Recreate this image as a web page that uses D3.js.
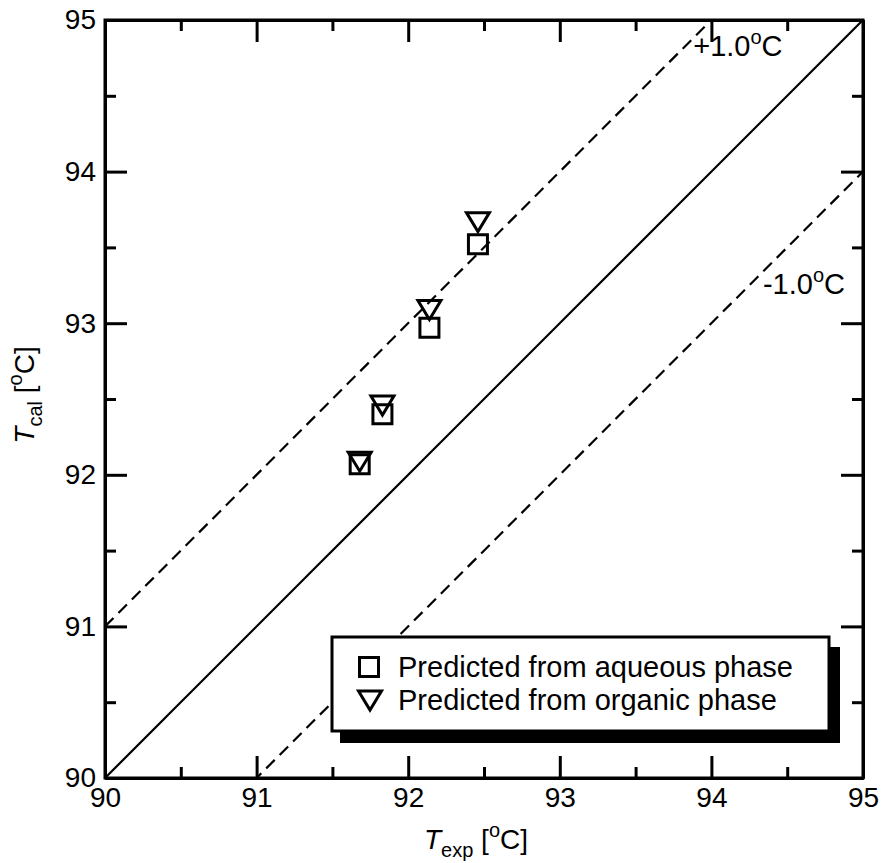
<!DOCTYPE html>
<html>
<head>
<meta charset="utf-8">
<script src="https://cdn.jsdelivr.net/npm/d3@7"></script>
<style>
  html, body { margin: 0; padding: 0; background: #fff; }
  svg { display: block; font-family: "Liberation Sans", Arial, sans-serif; }
</style>
</head>
<body>
<svg id="chart" width="882" height="863"></svg>
<script>
// ---- data ----
const texp = [91.68, 91.83, 92.14, 92.46];
const tcalAqueous = [92.07, 92.40, 92.97, 93.52];
const tcalOrganic = [92.09, 92.46, 93.09, 93.67];
const majorTicks = [90, 91, 92, 93, 94, 95];
const minorTicks = [90.5, 91.5, 92.5, 93.5, 94.5];
const legendLabels = ["Predicted from aqueous phase", "Predicted from organic phase"];
const refLines = [
  { offset: 0, dashed: false },
  { offset: 1, dashed: true },
  { offset: -1, dashed: true }
];
const refLabels = [
  { text: "+1.0", x: 93.88, y: 94.76 },
  { text: "-1.0", x: 94.34, y: 93.19 }
];

(function () {
// ---- layout ----
const svg = d3.select("#chart");
const pL = 105, pR = 863, pT = 20, pB = 778;
const x = d3.scaleLinear().domain([90, 95]).range([pL, pR]);
const y = d3.scaleLinear().domain([90, 95]).range([pB, pT]);

svg.append("defs").append("clipPath").attr("id", "clip")
  .append("rect").attr("x", pL).attr("y", pT)
  .attr("width", pR - pL).attr("height", pB - pT);

// reference lines
const plotG = svg.append("g").attr("clip-path", "url(#clip)");
refLines.forEach(r => {
  plotG.append("line")
    .attr("x1", x(90)).attr("y1", y(90 + r.offset))
    .attr("x2", x(95)).attr("y2", y(95 + r.offset))
    .attr("stroke", "#000").attr("stroke-width", 2.2)
    .attr("stroke-dasharray", r.dashed ? "12,7" : null);
});

// reference labels
refLabels.forEach(l => {
  const t = svg.append("text")
    .attr("x", x(l.x)).attr("y", y(l.y))
    .attr("font-size", 29).attr("fill", "#000");
  t.append("tspan").text(l.text);
  t.append("tspan").attr("font-size", 20).attr("dy", -12).text("o");
  t.append("tspan").attr("dy", 12).text("C");
});

// markers
const squareSide = 19;
const triPath = "M-11.5,-9L11.5,-9L0,10Z";
const sq = d3.symbol().type(d3.symbolSquare).size(squareSide * squareSide)();

svg.append("g").selectAll("path")
  .data(texp.map((v, i) => [v, tcalAqueous[i]]))
  .join("path")
  .attr("d", sq)
  .attr("transform", d => `translate(${x(d[0])},${y(d[1])})`)
  .attr("fill", "none").attr("stroke", "#000").attr("stroke-width", 3);

svg.append("g").selectAll("path")
  .data(texp.map((v, i) => [v, tcalOrganic[i]]))
  .join("path")
  .attr("d", triPath)
  .attr("transform", d => `translate(${x(d[0])},${y(d[1])})`)
  .attr("fill", "none").attr("stroke", "#000").attr("stroke-width", 3)
  .attr("stroke-linejoin", "miter");

// axes (ticks inward on all four sides)
function addAxis(gen, tx, ty, ticks, len, labels) {
  const g = svg.append("g").attr("transform", `translate(${tx},${ty})`)
    .call(gen.tickValues(ticks).tickSize(len).tickSizeOuter(0)
      .tickFormat(labels ? d3.format("d") : ""));
  g.select(".domain").attr("stroke-width", 3);
  g.selectAll(".tick line").attr("stroke-width", 3);
  g.selectAll(".tick text").attr("font-size", 28).attr("fill", "#000")
    .attr("font-family", "Liberation Sans, Arial, sans-serif");
  return g;
}
// bottom
const bx = addAxis(d3.axisBottom(x), 0, pB, majorTicks, -22, true);
bx.selectAll(".tick text").attr("y", 9).attr("dy", "0.71em");
addAxis(d3.axisBottom(x), 0, pB, minorTicks, -11, false);
// top
addAxis(d3.axisTop(x), 0, pT, majorTicks, -22, false);
addAxis(d3.axisTop(x), 0, pT, minorTicks, -11, false);
// left
const ly = addAxis(d3.axisLeft(y), pL, 0, majorTicks, -22, true);
ly.selectAll(".tick text").attr("x", -9);
addAxis(d3.axisLeft(y), pL, 0, minorTicks, -11, false);
// right
addAxis(d3.axisRight(y), pR, 0, majorTicks, -22, false);
addAxis(d3.axisRight(y), pR, 0, minorTicks, -11, false);

// frame
svg.append("rect").attr("x", pL).attr("y", pT)
  .attr("width", pR - pL).attr("height", pB - pT)
  .attr("fill", "none").attr("stroke", "#000").attr("stroke-width", 3);

// axis titles
const xt = svg.append("text").attr("x", 476).attr("y", 849)
  .attr("text-anchor", "middle").attr("font-size", 28).attr("fill", "#000");
xt.append("tspan").attr("font-style", "italic").text("T");
xt.append("tspan").attr("font-size", 20).attr("dy", 8).text("exp");
xt.append("tspan").attr("dy", -8).text(" [");
xt.append("tspan").attr("font-size", 20).attr("dy", -12).text("o");
xt.append("tspan").attr("dy", 12).text("C]");

const yt = svg.append("text")
  .attr("transform", `translate(34,${(pT + pB) / 2 - 4}) rotate(-90)`)
  .attr("text-anchor", "middle").attr("font-size", 28).attr("fill", "#000");
yt.append("tspan").attr("font-style", "italic").text("T");
yt.append("tspan").attr("font-size", 20).attr("dy", 8).text("cal");
yt.append("tspan").attr("dy", -8).text(" [");
yt.append("tspan").attr("font-size", 20).attr("dy", -12).text("o");
yt.append("tspan").attr("dy", 12).text("C]");

// legend
const lgX = 332, lgY = 637, lgR = 829, lgB = 731;
svg.append("rect").attr("x", lgX + 8).attr("y", lgY + 10)
  .attr("width", lgR - lgX + 3).attr("height", lgB - lgY + 2).attr("fill", "#000");
svg.append("rect").attr("x", lgX).attr("y", lgY)
  .attr("width", lgR - lgX).attr("height", lgB - lgY)
  .attr("fill", "#fff").attr("stroke", "#000").attr("stroke-width", 3);
const rowY = [667, 700];
svg.append("path").attr("d", sq)
  .attr("transform", `translate(369,${rowY[0]})`)
  .attr("fill", "none").attr("stroke", "#000").attr("stroke-width", 3);
svg.append("path").attr("d", triPath)
  .attr("transform", `translate(370,${rowY[1]})`)
  .attr("fill", "none").attr("stroke", "#000").attr("stroke-width", 3);
legendLabels.forEach((lab, i) => {
  svg.append("text").attr("x", 398).attr("y", rowY[i])
    .attr("dy", "0.36em").attr("font-size", 29).attr("fill", "#000").text(lab);
});
})();
</script>
</body>
</html>
